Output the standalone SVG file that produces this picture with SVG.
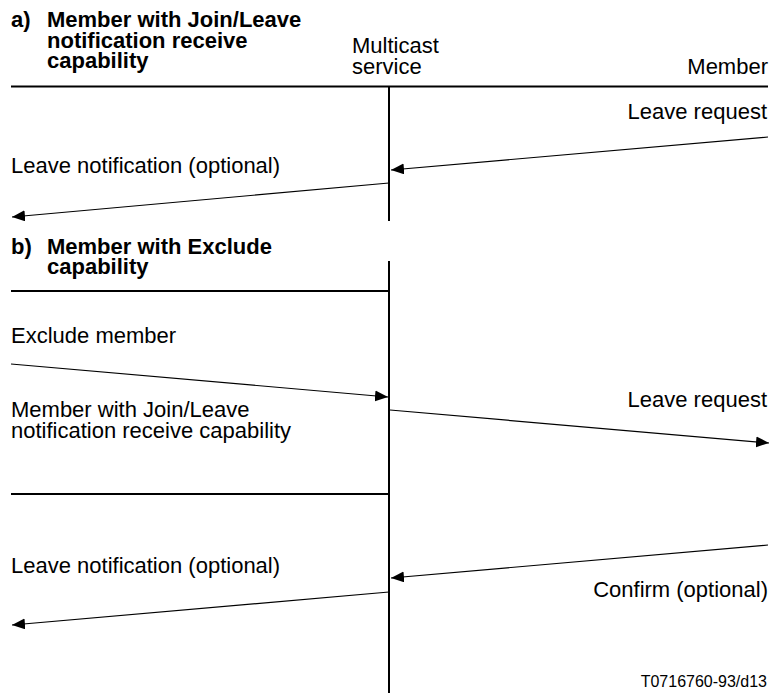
<svg xmlns="http://www.w3.org/2000/svg" width="779" height="693" viewBox="0 0 779 693">
  <style>
    text { font-family: "Liberation Sans", Arial, sans-serif; font-size: 22px; fill: #000; }
    .title { font-weight: bold; }
    .end { text-anchor: end; }
    .ref { font-size: 16px; }
    .rule { stroke: #000; stroke-width: 2; fill: none; }
    .msg { stroke: #000; stroke-width: 1.2; fill: none; marker-end: url(#head); }
  </style>
  <defs>
    <marker id="head" markerUnits="userSpaceOnUse" markerWidth="14" markerHeight="12" refX="13" refY="5.5" orient="auto">
      <path d="M0,0 L13,5.5 L0,11 z" fill="#000"/>
    </marker>
  </defs>
  <rect width="779" height="693" fill="#fff"/>

  <!-- part a) -->
  <g id="title-a">
    <text class="title" x="11" y="27">a)</text>
    <text class="title" x="47" y="27">Member with Join/Leave</text>
    <text class="title" x="47" y="47.5">notification receive</text>
    <text class="title" x="47" y="68">capability</text>
  </g>
  <g id="multicast-service">
    <text x="352" y="53">Multicast</text>
    <text x="352" y="74">service</text>
    <line class="rule" x1="389" y1="87" x2="389" y2="221"/>
    <line class="rule" x1="389" y1="261" x2="389" y2="693"/>
  </g>
  <g id="member">
    <text class="end" x="768" y="74">Member</text>
  </g>
  <g id="rule-a">
    <line class="rule" x1="11" y1="86.5" x2="768" y2="86.5"/>
  </g>

  <!-- part b) -->
  <g id="title-b">
    <text class="title" x="11" y="254">b)</text>
    <text class="title" x="47" y="254">Member with Exclude</text>
    <text class="title" x="47" y="274">capability</text>
    <line class="rule" x1="11" y1="291" x2="389" y2="291"/>
  </g>
  <g id="member-join-leave">
    <text x="11" y="417">Member with Join/Leave</text>
    <text x="11" y="438">notification receive capability</text>
    <line class="rule" x1="11" y1="494" x2="389" y2="494"/>
  </g>

  <!-- message labels -->
  <g id="labels">
    <text class="end" x="767" y="119">Leave request</text>
    <text x="11" y="173">Leave notification (optional)</text>
    <text x="11" y="343">Exclude member</text>
    <text class="end" x="767" y="407">Leave request</text>
    <text x="11" y="573">Leave notification (optional)</text>
    <text class="end" x="768" y="597">Confirm (optional)</text>
    <text class="end ref" x="767" y="687">T0716760-93/d13</text>
  </g>

  <!-- messages -->
  <g id="connectors">
    <line class="msg" x1="768" y1="137" x2="391" y2="170"/>
    <line class="msg" x1="389" y1="183" x2="12" y2="217"/>
    <line class="msg" x1="11" y1="364" x2="388" y2="397"/>
    <line class="msg" x1="390" y1="410" x2="769" y2="443"/>
    <line class="msg" x1="768" y1="545" x2="391" y2="578"/>
    <line class="msg" x1="389" y1="592" x2="12" y2="625"/>
  </g>
</svg>
